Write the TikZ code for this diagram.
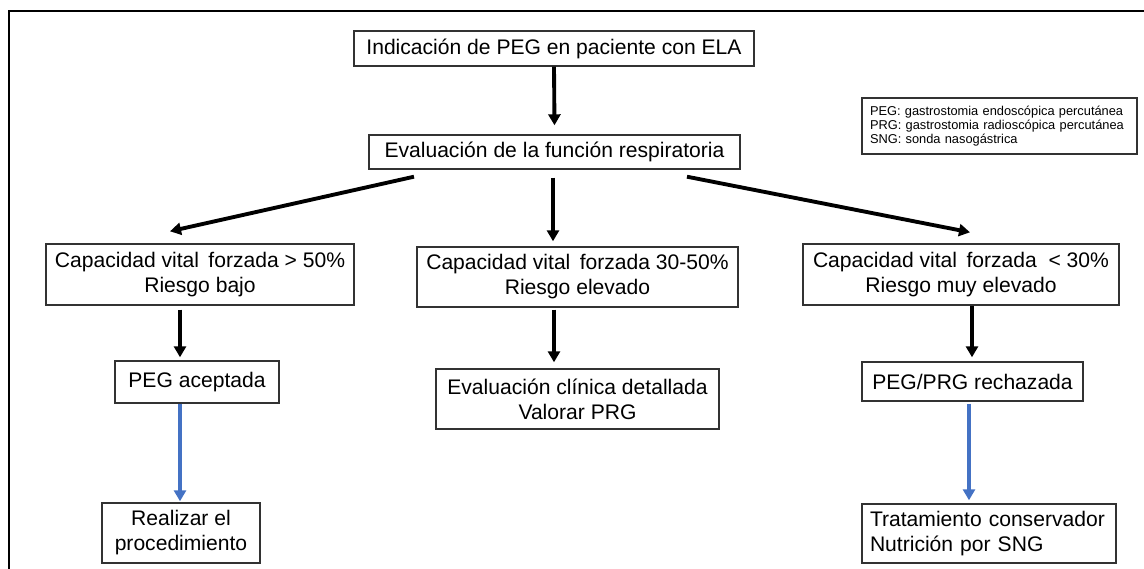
\documentclass[tikz,border=0pt]{standalone}
\usepackage{fontspec}
\setmainfont{Liberation Sans}
\usetikzlibrary{arrows.meta,positioning,calc}
\definecolor{figAzul}{RGB}{68,114,196}
\definecolor{figBorde}{RGB}{50,50,50}

\begin{document}
\begin{tikzpicture}[>={Triangle[length=2.2mm,width=2.4mm]},
  caja/.style={draw=figBorde,line width=0.8pt,inner sep=0pt,align=center,font=\fontsize{12}{14.2}\selectfont},
  cajaizq/.style={caja,align=left,inner xsep=0.16cm},
  flecha/.style={->,line width=2.2pt},
  flechaazul/.style={->,line width=1.8pt,figAzul}]
\useasboundingbox (0,0) rectangle (22.88,-11.38);
\draw[line width=1.2pt] (0.18,-11.38)--(0.18,-0.22)--(22.88,-0.22);   % marco
% nodos
\node[caja,minimum width=8cm,minimum height=0.7cm] (ind) at (11.08,-0.97) {Indicación de PEG en paciente con ELA};
\node[caja,minimum width=7.42cm,minimum height=0.68cm] (eval) at (11.09,-3.04) {Evaluación de la función respiratoria};
\node[cajaizq,text width=5.18cm,minimum height=1.12cm,font=\fontsize{7.3}{6.6}\selectfont] (leyenda) at (19.99,-2.52)
  {PEG: gastrostomia endoscópica percutánea\\PRG: gastrostomia radioscópica percutánea\\SNG: sonda nasogástrica};
\node[caja,minimum width=6.16cm,minimum height=1.22cm] (cvfa) at (4.0,-5.49) {Capacidad vital\ \,forzada > 50\%\\Riesgo bajo};
\node[caja,minimum width=6.42cm,minimum height=1.2cm] (cvfb) at (11.55,-5.54) {Capacidad vital\ \,forzada 30-50\%\\Riesgo elevado};
\node[caja,minimum width=6.32cm,minimum height=1.22cm] (cvfc) at (19.22,-5.49) {Capacidad vital\ \,forzada\ \ < 30\%\\Riesgo muy elevado};
\node[caja,minimum width=3.28cm,minimum height=0.84cm] (acep) at (3.94,-7.64) {PEG aceptada};
\node[caja,minimum width=5.66cm,minimum height=1.2cm] (clin) at (11.55,-7.98) {Evaluación clínica detallada\\Valorar PRG};
\node[caja,minimum width=4.42cm,minimum height=0.78cm] (rech) at (19.45,-7.63) {PEG/PRG rechazada};
\node[caja,minimum width=3.16cm,minimum height=1.2cm] (proc) at (3.62,-10.66) {Realizar el\\procedimiento};
\node[cajaizq,text width=4.76cm,minimum height=1.18cm] (cons) at (19.78,-10.67) {Tratamiento conservador\\Nutrición por SNG};
% flechas
\draw[flecha] (ind.south) -- ([yshift=0.18cm]eval.north);
\draw[flecha] ([xshift=-2.81cm,yshift=-0.14cm]eval.south) -- ([xshift=-0.6cm,yshift=0.24cm]cvfa.north);
\draw[flecha] ([xshift=-0.03cm,yshift=-0.16cm]eval.south) -- ([xshift=-0.03cm,yshift=0.1cm]eval.south |- cvfb.north);
\draw[flecha] ([xshift=2.65cm,yshift=-0.14cm]eval.south) -- ([xshift=0.18cm,yshift=0.22cm]cvfc.north);
\draw[flecha] ([xshift=-0.4cm,yshift=-0.08cm]cvfa.south) -- ([xshift=-0.4cm,yshift=0.06cm]cvfa.south |- acep.north);
\draw[flecha] ([xshift=-0.47cm,yshift=-0.04cm]cvfb.south) -- ([xshift=-0.47cm,yshift=0.12cm]cvfb.south |- clin.north);
\draw[flecha] ([xshift=0.22cm]cvfc.south) -- ([xshift=0.22cm,yshift=0.08cm]cvfc.south |- rech.north);
\draw[flechaazul] ([xshift=-0.34cm]acep.south) -- ([xshift=-0.34cm,yshift=0.02cm]acep.south |- proc.north);
\draw[flechaazul] ([xshift=-0.07cm,yshift=-0.04cm]rech.south) -- ([xshift=-0.07cm,yshift=0.06cm]rech.south |- cons.north);
\end{tikzpicture}
\end{document}
